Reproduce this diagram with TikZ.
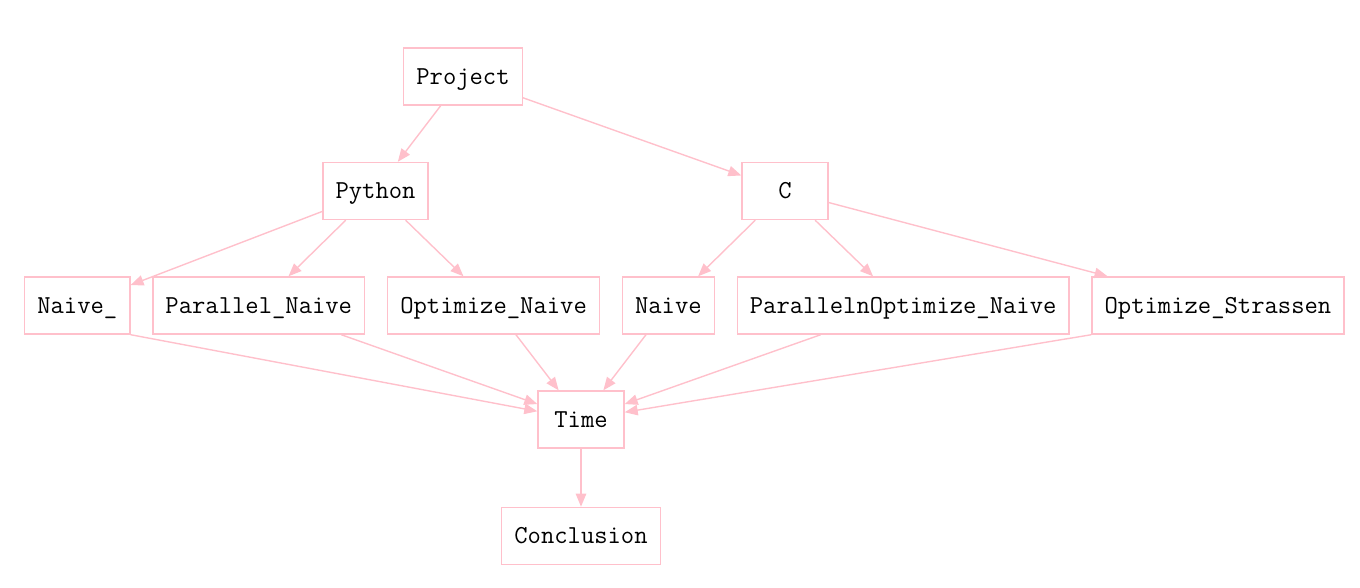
\documentclass[tikz,border=0pt]{standalone}
\usepackage{fontspec}
\usetikzlibrary{arrows.meta,positioning}
\definecolor{gvpink}{RGB}{255,192,203}
\tikzset{
  box/.style={draw=gvpink,line width=0.7pt,font=\ttfamily\fontsize{12.94}{15}\selectfont,
    minimum width=43pt,minimum height=28.5pt,inner xsep=6.3pt,
    text height=9.3pt,text depth=1.5pt,align=center},
  link/.style={->,draw=gvpink,line width=0.7pt}
}

\begin{document}
\begin{tikzpicture}[x=0.5pt,y=-0.5pt,>={Triangle[length=6.5pt,width=5.2pt]},node distance=10.8pt]
  \useasboundingbox (0,0) rectangle (1360,588);
  \node[box] (project) at (463,76.5) {Project};
  \node[box] (python) at (375.5,191) {Python};
  \node[box] (c) at (785,191) {C};
  % row of variants
  \node[box,anchor=west] (naive_) at (24,305.5) {Naive\_};
  \node[box,right=of naive_] (parnaive) {Parallel\_Naive};
  \node[box,right=of parnaive] (optnaive) {Optimize\_Naive};
  \node[box,right=of optnaive] (naive) {Naive};
  \node[box,right=of naive] (paroptnaive) {ParallelnOptimize\_Naive};
  \node[box,right=of paroptnaive] (optstrassen) {Optimize\_Strassen};
  \node[box] (time) at (581,419.5) {Time};
  \node[box,below=29pt of time] (conclusion) {Conclusion};
  \draw[link] (project) -- (python);
  \draw[link] (project) -- (c);
  \draw[link] (python) -- (naive_);
  \draw[link] (python) -- (parnaive);
  \draw[link] (python) -- (optnaive);
  \draw[link] (c) -- (naive);
  \draw[link] (c) -- (paroptnaive);
  \draw[link] (c) -- (optstrassen);
  \draw[link] (naive_.south east) -- (time);
  \draw[link] (parnaive) -- (time);
  \draw[link] (optnaive) -- (time);
  \draw[link] (naive) -- (time);
  \draw[link] (paroptnaive) -- (time);
  \draw[link] (optstrassen.south west) -- (time);
  \draw[link] (time) -- (conclusion);
\end{tikzpicture}
\end{document}
